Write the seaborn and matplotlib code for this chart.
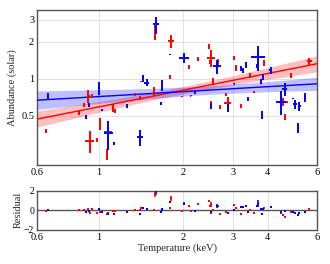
import numpy as np
import matplotlib
matplotlib.use("Agg")
import matplotlib.pyplot as plt
from matplotlib.ticker import FixedLocator, FixedFormatter, NullFormatter
import seaborn as sns

# ── data ─────────────────────────────────────────────────────
red_x    = [0.644, 0.848, 0.885, 0.915, 0.943, 0.927, 0.98, 1.007, 1.07, 1.08,
            1.12, 1.14, 1.34, 1.40, 1.41, 1.57, 1.58, 1.80, 1.79, 2.09,
            2.26, 1.98, 2.12, 2.47, 2.51, 2.48, 2.65, 2.56, 2.51, 2.70,
            2.84, 2.88, 3.04, 3.09, 3.21, 3.46, 3.58, 3.89, 4.55, 4.59,
            4.85, 5.63]
red_y    = [0.38, 0.53, 0.61, 0.72, 0.73, 0.315, 0.32, 0.43, 0.246, 0.37,
            0.58, 0.55, 0.75, 0.70, 0.95, 0.79, 2.42, 2.01, 1.04, 1.24,
            1.45, 0.72, 0.73, 1.83, 1.47, 1.37, 1.34, 0.95, 0.63, 0.59,
            0.74, 0.63, 1.47, 1.22, 0.60, 1.06, 0.78, 1.34, 0.65, 0.49,
            1.06, 1.38]
red_xerr = [0.005, 0.005, 0.005, 0.01, 0.005, 0.033, 0.004, 0.005, 0.006, 0.035,
            0.006, 0.005, 0.005, 0.005, 0.004, 0.01, 0.01, 0.045, 0.004, 0.005,
            0.005, 0.004, 0.004, 0.02, 0.09, 0.005, 0.02, 0.01, 0.005, 0.004,
            0.004, 0.085, 0.01, 0.01, 0.005, 0.01, 0.004, 0.02, 0.16, 0.01,
            0.01, 0.1]
red_yerr = [0.015, 0.02, 0.02, 0.088, 0.025, 0.065, 0.01, 0.047, 0.026, 0.012,
            0.04, 0.02, 0.02, 0.025, 0.01, 0.07, 0.37, 0.25, 0.04, 0.05,
            0.05, 0.01, 0.01, 0.08, 0.23, 0.05, 0.1, 0.06, 0.03, 0.02,
            0.02, 0.08, 0.06, 0.06, 0.025, 0.05, 0.01, 0.07, 0.05, 0.025,
            0.05, 0.08]

blue_x    = [0.655, 0.90, 0.92, 1.00, 1.02, 1.08, 1.13, 1.26, 1.40, 1.43,
             1.48, 1.60, 1.67, 1.68, 1.66, 1.79, 2.01, 2.20, 2.51, 2.63,
             2.89, 3.04, 3.21, 3.27, 3.35, 3.40, 3.69, 3.66, 3.80, 3.78,
             3.85, 4.09, 4.47, 4.59, 4.92, 4.99, 5.19, 5.42, 5.11]
blue_y    = [0.72, 0.49, 0.61, 0.84, 0.56, 0.36, 0.30, 0.60, 0.335, 1.01,
             0.93, 2.75, 0.84, 0.92, 0.63, 1.57, 1.47, 0.77, 0.60, 1.26,
             0.58, 0.91, 1.21, 1.16, 1.30, 0.68, 1.50, 1.26, 0.51, 0.95,
             1.03, 1.17, 0.65, 0.82, 0.69, 0.62, 0.60, 0.71, 0.40]
blue_xerr = [0.004, 0.004, 0.004, 0.01, 0.004, 0.04, 0.004, 0.004, 0.035, 0.006,
             0.03, 0.04, 0.006, 0.005, 0.004, 0.003, 0.085, 0.006, 0.006, 0.085,
             0.01, 0.003, 0.01, 0.01, 0.01, 0.005, 0.21, 0.01, 0.01, 0.01,
             0.04, 0.06, 0.18, 0.1, 0.004, 0.08, 0.06, 0.04, 0.04]
blue_yerr = [0.04, 0.015, 0.025, 0.1, 0.01, 0.095, 0.01, 0.025, 0.05, 0.07,
             0.06, 0.43, 0.04, 0.05, 0.02, 0.01, 0.14, 0.02, 0.03, 0.17,
             0.04, 0.01, 0.06, 0.05, 0.07, 0.025, 0.35, 0.05, 0.04, 0.04,
             0.06, 0.08, 0.14, 0.1, 0.01, 0.05, 0.05, 0.06, 0.04]

# power-law fits:  y = norm * T**slope ; band half-width (dex) = hypot(s0, s1*(logT - lc))
red_fit   = [0.592, 0.449]
blue_fit  = [0.717, 0.133]
red_band  = [0.030, 0.115, 0.28]
blue_band = [0.035, 0.107, 0.40]

x_ticks = [0.6, 1, 2, 3, 4, 6]
x_tick_labels = ["0.6", "1", "2", "3", "4", "6"]
y_ticks = [0.5, 1, 2, 3]
y_tick_labels = ["0.5", "1", "2", "3"]

RED, BLUE = "#ff0000", "#0000ff"

sns.set_style("whitegrid", {"grid.color": "#dddddd", "axes.edgecolor": "#555555"})
plt.rcParams["font.family"] = ["Liberation Serif", "DejaVu Serif"]
plt.rcParams["font.size"] = 7.5

fig = plt.figure(figsize=(3.3, 2.64), dpi=100)
ax = fig.add_axes([0.112, 0.375, 0.849, 0.587])
axr = fig.add_axes([0.112, 0.129, 0.849, 0.149])


def model(t, fit):
    return fit[0] * np.asarray(t, dtype=float) ** fit[1]


tgrid = np.geomspace(0.6, 6, 60)
for fit, band, col in [(red_fit, red_band, RED), (blue_fit, blue_band, BLUE)]:
    lt = np.log10(tgrid)
    half = np.hypot(band[0], band[1] * (lt - band[2]))
    mid = model(tgrid, fit)
    ax.fill_between(tgrid, mid / 10**half, mid * 10**half, color=col,
                    alpha=0.25, lw=0, zorder=2)
    sns.lineplot(x=tgrid, y=mid, ax=ax, color=col, lw=1.0, zorder=3)

for xs, ys, xe, ye, fit, col in [(red_x, red_y, red_xerr, red_yerr, red_fit, RED),
                                 (blue_x, blue_y, blue_xerr, blue_yerr, blue_fit, BLUE)]:
    ax.errorbar(xs, ys, xerr=xe, yerr=ye, fmt="none", ecolor=col,
                elinewidth=1.4, capsize=0, zorder=4)
    # residual = data - model
    resid = np.asarray(ys) - model(xs, fit)
    axr.errorbar(xs, resid, yerr=ye, fmt="s", ms=1.6, mew=0, color=col,
                 ecolor=col, elinewidth=1.2, capsize=0, zorder=4)

for a in (ax, axr):
    a.set_xscale("log")
    a.set_xlim(0.6, 6)
    a.xaxis.set_major_locator(FixedLocator(x_ticks))
    a.xaxis.set_major_formatter(FixedFormatter(x_tick_labels))
    a.xaxis.set_minor_formatter(NullFormatter())
    a.tick_params(which="both", direction="in", length=2, width=0.6,
                  colors="#555555", labelcolor="black", labelsize=7.5, pad=2)
    a.tick_params(which="minor", length=1.2)
    for s in a.spines.values():
        s.set_linewidth(1.0)
        s.set_color("#555555")
    a.grid(True, which="major", color="#dddddd", lw=0.6)
    a.grid(False, which="minor")

ax.set_yscale("log")
ax.set_ylim(0.2, 3.6)
ax.yaxis.set_major_locator(FixedLocator(y_ticks))
ax.yaxis.set_major_formatter(FixedFormatter(y_tick_labels))
ax.yaxis.set_minor_formatter(NullFormatter())
ax.set_ylabel("Abundance (solar)", labelpad=3)

axr.set_ylim(-2, 2)
axr.set_yticks([-2, 0, 2])
axr.tick_params(axis="y", labelsize=7)
axr.axhline(0, color="#555555", lw=1.0, zorder=3)
axr.set_ylabel("Residual", labelpad=1)
axr.set_xlabel("Temperature (keV)", labelpad=1)

fig.savefig("out.png", dpi=100)
